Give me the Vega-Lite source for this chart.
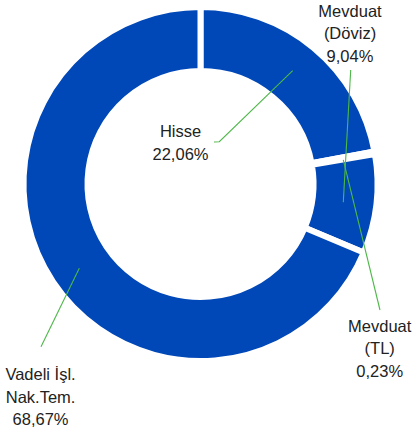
{
  "$schema": "https://vega.github.io/schema/vega-lite/v6.json",
  "width": 401,
  "height": 368,
  "autosize": {"type": "none"},
  "padding": {"left": 0, "top": 0, "right": 13, "bottom": 68},
  "background": "white",
  "config": {"view": {"stroke": null}},
  "datasets": {
    "slices": [
      {"category": "Hisse", "value": 22.06, "order": 1},
      {"category": "Mevduat (TL)", "value": 0.23, "order": 2},
      {"category": "Mevduat (Döviz)", "value": 9.04, "order": 3},
      {"category": "Vadeli İşl. Nak.Tem.", "value": 68.67, "order": 4}
    ],
    "labels": [
      {"category": "Hisse", "label": "Hisse\n22,06%", "ax": -0.1147, "ay": 0.2696},
      {"category": "Mevduat (Döviz)", "label": "Mevduat\n(Döviz)\n9,04%", "ax": 0.8575, "ay": 0.9596},
      {"category": "Mevduat (TL)", "label": "Mevduat\n(TL)\n0,23%", "ax": 1.0278, "ay": -0.8471},
      {"category": "Vadeli İşl. Nak.Tem.", "label": "Vadeli İşl.\nNak.Tem.\n68,67%", "ax": -0.9174, "ay": -1.1242}
    ],
    "leaders": [
      {"category": "Hisse", "seq": 1, "ax": 0.0774, "ay": 0.2409},
      {"category": "Hisse", "seq": 2, "ax": 0.1078, "ay": 0.2426},
      {"category": "Hisse", "seq": 3, "ax": 0.5288, "ay": 0.6498},
      {"category": "Mevduat (Döviz)", "seq": 1, "ax": 0.8615, "ay": 0.6539},
      {"category": "Mevduat (Döviz)", "seq": 2, "ax": 0.819, "ay": -0.105},
      {"category": "Mevduat (TL)", "seq": 1, "ax": 1.0295, "ay": -0.7227},
      {"category": "Mevduat (TL)", "seq": 2, "ax": 0.819, "ay": 0.1377},
      {"category": "Vadeli İşl. Nak.Tem.", "seq": 1, "ax": -0.9148, "ay": -0.9332},
      {"category": "Vadeli İşl. Nak.Tem.", "seq": 2, "ax": -0.6952, "ay": -0.4835}
    ]
  },
  "layer": [
    {
      "data": {"name": "slices"},
      "mark": {"type": "arc", "outerRadius": 177, "innerRadius": 113, "color": "#0047B7", "stroke": "white", "strokeWidth": 6},
      "encoding": {
        "theta": {"field": "value", "type": "quantitative", "stack": true},
        "order": {"field": "order", "type": "quantitative"}
      }
    },
    {
      "data": {"name": "leaders"},
      "mark": {"type": "line", "color": "#4DB848", "strokeWidth": 1.1},
      "encoding": {
        "x": {"field": "ax", "type": "quantitative", "scale": {"domain": [-1.15, 1.15]}, "axis": null},
        "y": {"field": "ay", "type": "quantitative", "scale": {"domain": [-1.0554, 1.0554]}, "axis": null},
        "detail": {"field": "category"},
        "order": {"field": "seq", "type": "quantitative"}
      }
    },
    {
      "data": {"name": "labels"},
      "mark": {"type": "text", "lineBreak": "\n", "align": "center", "baseline": "alphabetic", "font": "Liberation Sans", "fontSize": 16.5, "lineHeight": 22.7, "color": "#222222"},
      "encoding": {
        "x": {"field": "ax", "type": "quantitative", "scale": {"domain": [-1.15, 1.15]}, "axis": null},
        "y": {"field": "ay", "type": "quantitative", "scale": {"domain": [-1.0554, 1.0554]}, "axis": null},
        "text": {"field": "label"}
      }
    }
  ]
}
